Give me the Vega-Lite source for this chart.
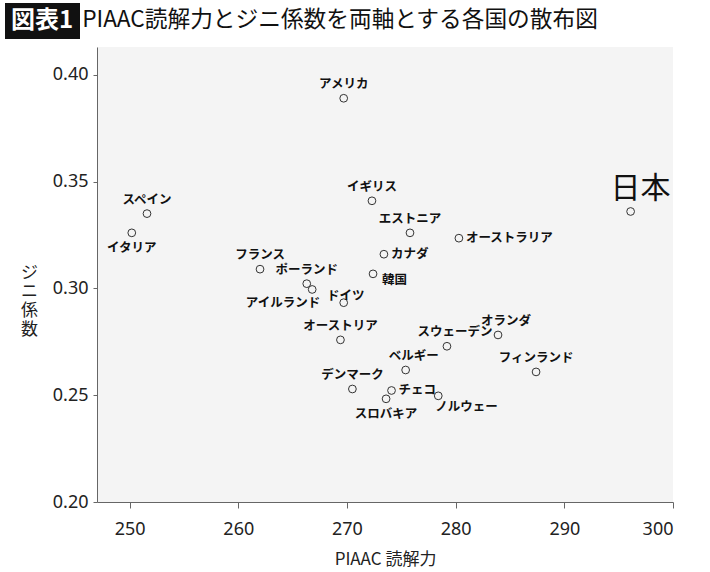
{
  "$schema": "https://vega.github.io/schema/vega-lite/v6.json",
  "padding": {"left": 5, "top": 3, "right": 5, "bottom": 5},
  "background": "white",
  "config": {
    "view": {"stroke": null},
    "text": {"font": "Noto Sans CJK JP"}
  },
  "resolve": {"scale": {"color": "independent"}, "legend": {"color": "independent"}},
  "datasets": {
    "countries": [
      {"country": "アメリカ", "piaac": 269.7, "gini": 0.389},
      {"country": "イギリス", "piaac": 272.3, "gini": 0.341},
      {"country": "エストニア", "piaac": 275.8, "gini": 0.326},
      {"country": "オーストラリア", "piaac": 280.3, "gini": 0.3235},
      {"country": "カナダ", "piaac": 273.4, "gini": 0.316},
      {"country": "韓国", "piaac": 272.4, "gini": 0.3068},
      {"country": "日本", "piaac": 296.1, "gini": 0.336},
      {"country": "スペイン", "piaac": 251.6, "gini": 0.335},
      {"country": "イタリア", "piaac": 250.2, "gini": 0.326},
      {"country": "フランス", "piaac": 262.0, "gini": 0.309},
      {"country": "ポーランド", "piaac": 266.3, "gini": 0.3022},
      {"country": "アイルランド", "piaac": 266.8, "gini": 0.2995},
      {"country": "ドイツ", "piaac": 269.7, "gini": 0.2933},
      {"country": "オーストリア", "piaac": 269.4, "gini": 0.2759},
      {"country": "スウェーデン", "piaac": 279.2, "gini": 0.2729},
      {"country": "オランダ", "piaac": 283.9, "gini": 0.2782},
      {"country": "フィンランド", "piaac": 287.4, "gini": 0.2609},
      {"country": "ベルギー", "piaac": 275.4, "gini": 0.2618},
      {"country": "デンマーク", "piaac": 270.5, "gini": 0.2529},
      {"country": "チェコ", "piaac": 274.1, "gini": 0.2522},
      {"country": "スロバキア", "piaac": 273.6, "gini": 0.2483},
      {"country": "ノルウェー", "piaac": 278.4, "gini": 0.2497}
    ]
  },
  "spacing": 8,
  "vconcat": [
    {
      "width": 486,
      "height": 33,
      "data": {"values": [{"figure": "図表1", "heading": "PIAAC読解力とジニ係数を両軸とする各国の散布図"}]},
      "mark": {"type": "text", "fontSize": 22.7},
      "encoding": {
        "text": {"field": "heading"},
        "color": {
          "field": "figure",
          "type": "nominal",
          "scale": {"range": ["#111111"]},
          "legend": {
            "orient": "left",
            "offset": 17,
            "title": null,
            "fillColor": "#111111",
            "padding": 6,
            "symbolSize": 0,
            "symbolOpacity": 0,
            "symbolStrokeWidth": 0,
            "labelOffset": -24,
            "labelAlign": "left",
            "labelColor": "white",
            "labelFont": "Noto Sans CJK JP",
            "labelFontSize": 24,
            "labelFontWeight": "bold",
            "labelLimit": 200
          }
        }
      }
    },
    {
      "width": 576,
      "height": 455,
      "view": {"fill": "#f4f4f4", "stroke": null},
      "data": {"name": "countries"},
      "encoding": {
        "x": {
          "field": "piaac",
          "type": "quantitative",
          "scale": {"domain": [247, 300], "nice": false, "zero": false},
          "axis": {
            "values": [250, 260, 270, 280, 290, 300],
            "title": "PIAAC 読解力",
            "grid": false,
            "domainColor": "#666666",
            "tickColor": "#666666",
            "tickSize": 6,
            "labelPadding": 12,
            "labelFont": "Noto Sans",
            "labelFontSize": 18,
            "labelColor": "#222222",
            "titleFont": "Noto Sans CJK JP",
            "titleFontSize": 17,
            "titleFontWeight": "normal",
            "titleColor": "#222222",
            "titlePadding": 13
          }
        },
        "y": {
          "field": "gini",
          "type": "quantitative",
          "scale": {"domain": [0.2, 0.413], "nice": false, "zero": false},
          "axis": {
            "values": [0.2, 0.25, 0.3, 0.35, 0.4],
            "format": ".2f",
            "title": ["ジ", "ニ", "係", "数"],
            "titleAngle": 0,
            "titleAlign": "center",
            "titleBaseline": "middle",
            "titleLineHeight": 19,
            "titleX": -68,
            "titleY": 225,
            "grid": false,
            "domainColor": "#666666",
            "tickColor": "#666666",
            "tickSize": 4,
            "labelPadding": 5,
            "labelFont": "Noto Sans",
            "labelFontSize": 18,
            "labelColor": "#222222",
            "titleFont": "Noto Sans CJK JP",
            "titleFontSize": 17,
            "titleFontWeight": "normal",
            "titleColor": "#222222"
          }
        }
      },
      "layer": [
        {
          "mark": {"type": "point", "filled": false, "stroke": "#333333", "strokeWidth": 1, "size": 60, "opacity": 1}
        },
        {
          "transform": [{"filter": {"field": "country", "oneOf": ["アメリカ", "イギリス", "エストニア", "スペイン", "オーストリア", "フィンランド", "デンマーク", "フランス", "ポーランド"]}}],
          "mark": {"type": "text", "fontSize": 12.5, "fontWeight": "bold", "color": "#111111", "dy": -14},
          "encoding": {"text": {"field": "country"}}
        },
        {
          "transform": [{"filter": {"field": "country", "oneOf": ["オランダ", "ベルギー", "スウェーデン"]}}],
          "mark": {"type": "text", "fontSize": 12.5, "fontWeight": "bold", "color": "#111111", "dx": 8, "dy": -14},
          "encoding": {"text": {"field": "country"}}
        },
        {
          "transform": [{"filter": {"field": "country", "equal": "ドイツ"}}],
          "mark": {"type": "text", "fontSize": 12.5, "fontWeight": "bold", "color": "#111111", "dx": 2, "dy": -7},
          "encoding": {"text": {"field": "country"}}
        },
        {
          "transform": [{"filter": {"field": "country", "oneOf": ["イタリア", "スロバキア"]}}],
          "mark": {"type": "text", "fontSize": 12.5, "fontWeight": "bold", "color": "#111111", "dy": 15},
          "encoding": {"text": {"field": "country"}}
        },
        {
          "transform": [{"filter": {"field": "country", "equal": "アイルランド"}}],
          "mark": {"type": "text", "fontSize": 12.5, "fontWeight": "bold", "color": "#111111", "align": "right", "dx": 8, "dy": 14},
          "encoding": {"text": {"field": "country"}}
        },
        {
          "transform": [{"filter": {"field": "country", "oneOf": ["カナダ", "チェコ", "オーストラリア"]}}],
          "mark": {"type": "text", "fontSize": 12.5, "fontWeight": "bold", "color": "#111111", "align": "left", "dx": 7},
          "encoding": {"text": {"field": "country"}}
        },
        {
          "transform": [{"filter": {"field": "country", "equal": "韓国"}}],
          "mark": {"type": "text", "fontSize": 12.5, "fontWeight": "bold", "color": "#111111", "align": "left", "dx": 9, "dy": 6},
          "encoding": {"text": {"field": "country"}}
        },
        {
          "transform": [{"filter": {"field": "country", "equal": "ノルウェー"}}],
          "mark": {"type": "text", "fontSize": 12.5, "fontWeight": "bold", "color": "#111111", "align": "left", "dx": -3, "dy": 11},
          "encoding": {"text": {"field": "country"}}
        },
        {
          "transform": [{"filter": {"field": "country", "equal": "日本"}}],
          "mark": {"type": "text", "fontSize": 30, "fontWeight": "normal", "color": "#111111", "dx": 10, "dy": -22},
          "encoding": {"text": {"field": "country"}}
        }
      ]
    }
  ]
}
